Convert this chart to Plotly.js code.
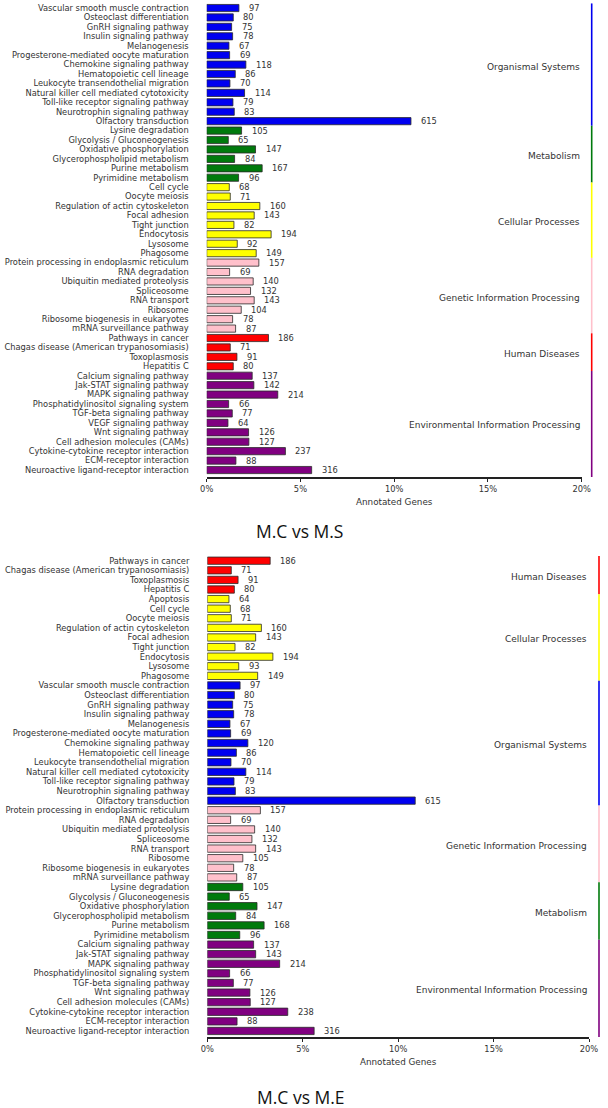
<!DOCTYPE html>
<html>
<head>
<meta charset="utf-8">
<script src="https://cdn.plot.ly/plotly-3.0.1.min.js"></script>
<style>html,body{margin:0;padding:0;background:#fff;}#chart{width:608px;height:1108px;}</style>
</head>
<body>
<div id="chart"></div>
<script>
// ---------- DATA ----------
const TOTAL_GENES = 5645;
const tickPercents = [0, 5, 10, 15, 20];
const tickTexts = ['0%', '5%', '10%', '15%', '20%'];

const topTitle = 'M.C vs M.S';
const topLabels = [
  'Vascular smooth muscle contraction','Osteoclast differentiation','GnRH signaling pathway','Insulin signaling pathway','Melanogenesis','Progesterone-mediated oocyte maturation','Chemokine signaling pathway','Hematopoietic cell lineage','Leukocyte transendothelial migration','Natural killer cell mediated cytotoxicity','Toll-like receptor signaling pathway','Neurotrophin signaling pathway','Olfactory transduction',
  'Lysine degradation','Glycolysis / Gluconeogenesis','Oxidative phosphorylation','Glycerophospholipid metabolism','Purine metabolism','Pyrimidine metabolism',
  'Cell cycle','Oocyte meiosis','Regulation of actin cytoskeleton','Focal adhesion','Tight junction','Endocytosis','Lysosome','Phagosome',
  'Protein processing in endoplasmic reticulum','RNA degradation','Ubiquitin mediated proteolysis','Spliceosome','RNA transport','Ribosome','Ribosome biogenesis in eukaryotes','mRNA surveillance pathway',
  'Pathways in cancer','Chagas disease (American trypanosomiasis)','Toxoplasmosis','Hepatitis C',
  'Calcium signaling pathway','Jak-STAT signaling pathway','MAPK signaling pathway','Phosphatidylinositol signaling system','TGF-beta signaling pathway','VEGF signaling pathway','Wnt signaling pathway','Cell adhesion molecules (CAMs)','Cytokine-cytokine receptor interaction','ECM-receptor interaction','Neuroactive ligand-receptor interaction'
];
const topValues = [
  97,80,75,78,67,69,118,86,70,114,79,83,615,
  105,65,147,84,167,96,
  68,71,160,143,82,194,92,149,
  157,69,140,132,143,104,78,87,
  186,71,91,80,
  137,142,214,66,77,64,126,127,237,88,316
];
const topGroupNames = ['Organismal Systems','Metabolism','Cellular Processes','Genetic Information Processing','Human Diseases','Environmental Information Processing'];
const topGroupSizes = [13, 6, 8, 8, 4, 11];

const botTitle = 'M.C vs M.E';
const botLabels = [
  'Pathways in cancer','Chagas disease (American trypanosomiasis)','Toxoplasmosis','Hepatitis C',
  'Apoptosis','Cell cycle','Oocyte meiosis','Regulation of actin cytoskeleton','Focal adhesion','Tight junction','Endocytosis','Lysosome','Phagosome',
  'Vascular smooth muscle contraction','Osteoclast differentiation','GnRH signaling pathway','Insulin signaling pathway','Melanogenesis','Progesterone-mediated oocyte maturation','Chemokine signaling pathway','Hematopoietic cell lineage','Leukocyte transendothelial migration','Natural killer cell mediated cytotoxicity','Toll-like receptor signaling pathway','Neurotrophin signaling pathway','Olfactory transduction',
  'Protein processing in endoplasmic reticulum','RNA degradation','Ubiquitin mediated proteolysis','Spliceosome','RNA transport','Ribosome','Ribosome biogenesis in eukaryotes','mRNA surveillance pathway',
  'Lysine degradation','Glycolysis / Gluconeogenesis','Oxidative phosphorylation','Glycerophospholipid metabolism','Purine metabolism','Pyrimidine metabolism',
  'Calcium signaling pathway','Jak-STAT signaling pathway','MAPK signaling pathway','Phosphatidylinositol signaling system','TGF-beta signaling pathway','Wnt signaling pathway','Cell adhesion molecules (CAMs)','Cytokine-cytokine receptor interaction','ECM-receptor interaction','Neuroactive ligand-receptor interaction'
];
const botValues = [
  186,71,91,80,
  64,68,71,160,143,82,194,93,149,
  97,80,75,78,67,69,120,86,70,114,79,83,615,
  157,69,140,132,143,105,78,87,
  105,65,147,84,168,96,
  137,143,214,66,77,126,127,238,88,316
];
const botGroupNames = ['Human Diseases','Cellular Processes','Organismal Systems','Genetic Information Processing','Metabolism','Environmental Information Processing'];
const botGroupSizes = [4, 9, 13, 8, 6, 10];

// ---------- STYLE ----------
const groupColors = {
  'Organismal Systems': '#0000f0',
  'Metabolism': '#007a0c',
  'Cellular Processes': '#ffff00',
  'Genetic Information Processing': '#ffc0cb',
  'Human Diseases': '#ff0000',
  'Environmental Information Processing': '#800080'
};
const FONT = 'DejaVu Sans, sans-serif';
const TXT = '#333333';
const W = 608, H = 1108;

const panels = [
  {labels: topLabels, values: topValues, gnames: topGroupNames, gsizes: topGroupSizes, title: topTitle,
   xl: 206.7, xr: 581.7, yt: 3.3, yb: 477, rangeEnd: 49.74, lineX: 591.7, titleY: 530.7, titleX: 299, ax: ''},
  {labels: botLabels, values: botValues, gnames: botGroupNames, gsizes: botGroupSizes, title: botTitle,
   xl: 207.3, xr: 589.0, yt: 555.9, yb: 1037, rangeEnd: 49.63, lineX: 599.0, titleY: 1097, titleX: 301, ax: '2'}
];

const data = [];
const annotations = [];
const shapes = [];
const layout = {
  width: W, height: H,
  margin: {l: 0, r: 0, t: 0, b: 0},
  paper_bgcolor: '#ffffff', plot_bgcolor: '#ffffff',
  showlegend: false,
  bargap: 0.24,
  font: {family: FONT, size: 8.3, color: TXT}
};

panels.forEach(function(p) {
  const rowGroup = [];
  p.gnames.forEach(function(g, i) { for (let k = 0; k < p.gsizes[i]; k++) rowGroup.push(g); });
  const colors = rowGroup.map(function(g) { return groupColors[g]; });
  const xa = 'x' + p.ax, ya = 'y' + p.ax;
  data.push({
    type: 'bar', orientation: 'h',
    x: p.values, y: p.labels,
    xaxis: xa, yaxis: ya,
    marker: {color: colors, line: {color: '#2a2a2a', width: 0.8}},
    hoverinfo: 'x+y'
  });
  layout['xaxis' + p.ax] = {
    domain: [p.xl / W, p.xr / W], anchor: ya,
    range: [0, TOTAL_GENES * 0.2],
    tickmode: 'array',
    tickvals: tickPercents.map(function(v) { return TOTAL_GENES * v / 100; }),
    ticktext: tickTexts,
    ticks: 'outside', ticklen: 3, tickwidth: 1, tickcolor: '#222',
    showline: true, linewidth: 2, linecolor: '#222',
    showgrid: false, zeroline: false,
    tickfont: {family: FONT, size: 8.3, color: TXT},
    title: {text: 'Annotated Genes', font: {family: FONT, size: 8.8, color: TXT}, standoff: 6}
  };
  layout['yaxis' + p.ax] = {
    domain: [1 - p.yb / H, 1 - p.yt / H], anchor: xa,
    type: 'category', categoryorder: 'array', categoryarray: p.labels,
    tickmode: 'array', tickvals: p.labels, ticktext: p.labels,
    range: [p.rangeEnd, -0.5],
    showline: false, showgrid: false, zeroline: false, ticks: '',
    ticklabelstandoff: 17,
    tickfont: {family: FONT, size: 8.3, color: TXT}
  };
  // value labels
  p.values.forEach(function(v, i) {
    annotations.push({
      x: v, y: p.labels[i], xref: xa, yref: ya,
      text: String(v), showarrow: false, xanchor: 'left', yanchor: 'middle',
      xshift: 8, font: {family: FONT, size: 8.3, color: TXT}
    });
  });
  // group lines and labels
  let start = 0;
  p.gnames.forEach(function(g, i) {
    const end = start + p.gsizes[i] - 1;
    const y0 = start - 0.5;
    const y1 = (i === p.gnames.length - 1) ? p.rangeEnd : end + 0.5;
    shapes.push({
      type: 'line', xref: 'paper', yref: ya,
      x0: p.lineX / W, x1: p.lineX / W, y0: y0, y1: y1,
      line: {color: groupColors[g], width: 1.6}
    });
    annotations.push({
      x: p.xr / W, xref: 'paper', y: (start + end) / 2, yref: ya,
      text: g, showarrow: false, xanchor: 'right', yanchor: 'middle', yshift: -2,
      font: {family: FONT, size: 9, color: TXT}
    });
    start = end + 1;
  });
  annotations.push({
    x: p.titleX / W, y: 1 - p.titleY / H, xref: 'paper', yref: 'paper',
    text: p.title, showarrow: false, xanchor: 'center', yanchor: 'middle',
    font: {family: 'Open Sans, sans-serif', size: 17.5, color: '#111'}
  });
});

layout.annotations = annotations;
layout.shapes = shapes;

Plotly.newPlot('chart', data, layout, {displayModeBar: false, staticPlot: true});
</script>
</body>
</html>
